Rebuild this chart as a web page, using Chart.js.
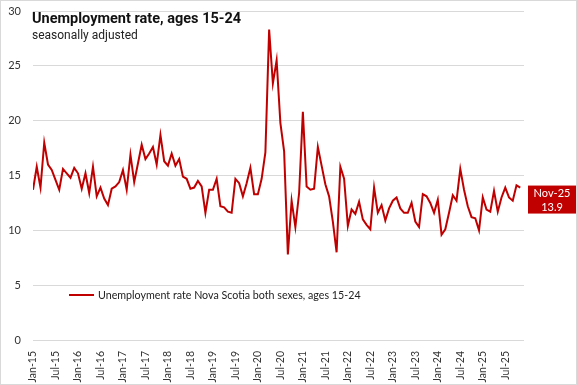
<!DOCTYPE html>
<html>
<head>
<meta charset="utf-8">
<script src="https://cdn.jsdelivr.net/npm/chart.js"></script>
<style>
    body { margin: 0; background: #fff; }
    #wrap {
        position: relative;
        width: 577px;
        height: 385px;
        border: 1px solid #d9d9d9;
        box-sizing: border-box;
    }
    #title {
        position: absolute; left: 31px; top: 9px;
        font: bold 14.5px Roboto, sans-serif; color: #111;
    }
    #subtitle {
        position: absolute; left: 31px; top: 27px;
        font: 12px Roboto, sans-serif; color: #222;
    }
    #legend {
        position: absolute; left: 68px; top: 287px;
        font: 10.7px Lato, sans-serif; color: #222;
        display: flex; align-items: center;
    }
    #legend .swatch {
        display: inline-block; width: 25px; height: 2px;
        background: #c00000; margin-right: 4px;
    }
</style>
</head>
<body>
<div id="wrap">
    <canvas id="chart"></canvas>
    <div id="title">Unemployment rate, ages 15-24</div>
    <div id="subtitle">seasonally adjusted</div>
    <div id="legend"><span class="swatch"></span><span id="legendText"></span></div>
</div>
<script>
// Monthly values, Jan-15 .. Nov-25
const rates = [
    13.7, 15.8, 13.9, 18.0, 16.0, 15.5, 14.6, 13.7, 15.6, 15.2, 14.8, 15.7,
    15.2, 13.8, 15.2, 13.4, 15.8, 13.1, 13.9, 12.9, 12.3, 13.8, 14.0, 14.4,
    15.5, 13.7, 16.9, 14.4, 16.1, 17.8, 16.5, 17.0, 17.6, 16.0, 18.7, 16.3,
    15.9, 17.0, 15.9, 16.5, 14.9, 14.7, 13.8, 13.9, 14.5, 14.0, 11.6, 13.7,
    13.7, 14.7, 12.2, 12.1, 11.7, 11.6, 14.7, 14.3, 13.1, 14.3, 15.7, 13.3,
    13.3, 14.7, 17.1, 28.3, 23.4, 25.5, 19.8, 17.2, 7.8, 12.7, 10.3, 13.4,
    20.8, 14.0, 13.7, 13.8, 17.6, 15.9, 14.2, 13.1, 10.8, 8.0, 15.8, 14.7,
    10.4, 11.9, 11.5, 12.6, 11.0, 10.5, 10.1, 13.9, 11.6, 12.3, 10.9, 12.0,
    12.7, 13.0, 12.0, 11.6, 11.6, 12.5, 10.8, 10.3, 13.3, 13.1, 12.5, 11.6,
    12.8, 9.6, 10.1, 11.6, 13.2, 12.7, 15.6, 13.7, 12.2, 11.2, 11.1, 10.0,
    13.0, 11.9, 11.7, 13.6, 11.7, 13.0, 13.9, 13.0, 12.7, 14.1, 13.9
];

// x tick labels, one every 6 months
const tickLabels = [
    'Jan-15', 'Jul-15', 'Jan-16', 'Jul-16', 'Jan-17', 'Jul-17', 'Jan-18', 'Jul-18',
    'Jan-19', 'Jul-19', 'Jan-20', 'Jul-20', 'Jan-21', 'Jul-21', 'Jan-22', 'Jul-22',
    'Jan-23', 'Jul-23', 'Jan-24', 'Jul-24', 'Jan-25', 'Jul-25'
];
const yTicks = [0, 5, 10, 15, 20, 25, 30];

const lastMonth = 'Nov-25';
const seriesName = 'Unemployment rate Nova Scotia both sexes, ages 15-24';
const lineColor = '#c00000';

document.getElementById('legendText').textContent = seriesName;

// Callout box with the latest value, to the right of the plot
const lastValueLabel = {
    id: 'lastValueLabel',
    afterDraw(chart) {
        const ctx = chart.ctx;
        const meta = chart.getDatasetMeta(0);
        const last = meta.data[meta.data.length - 1];
        const value = rates[rates.length - 1];
        const x = chart.chartArea.right + 4;
        const y = last.y - 2;
        const w = 48, h = 28;
        ctx.save();
        ctx.fillStyle = lineColor;
        ctx.fillRect(x, y, w, h);
        ctx.fillStyle = '#fff';
        ctx.font = '11px Lato, sans-serif';
        ctx.textAlign = 'center';
        ctx.textBaseline = 'middle';
        ctx.fillText(lastMonth, x + w / 2, y + 7.5);
        ctx.fillText(value.toFixed(1), x + w / 2, y + 21.5);
        ctx.restore();
    }
};

new Chart(document.getElementById('chart'), {
    type: 'line',
    data: {
        datasets: [{
            label: seriesName,
            data: rates.map((v, i) => ({ x: i, y: v })),
            borderColor: lineColor,
            borderWidth: 2,
            pointRadius: 0,
            tension: 0,
            fill: false
        }]
    },
    options: {
        responsive: true,
        maintainAspectRatio: false,
        animation: false,
        layout: { padding: { top: 10, right: 52, left: 0, bottom: 0 } },
        plugins: {
            legend: { display: false },
            tooltip: { enabled: false }
        },
        scales: {
            x: {
                type: 'linear',
                min: 0,
                max: 131,
                grid: { display: false },
                border: { display: false },
                afterBuildTicks: (axis) => {
                    axis.ticks = tickLabels.map((_, i) => ({ value: i * 6 }));
                },
                afterFit: (axis) => {
                    axis.height = 44;
                    axis.paddingLeft = 0;
                    axis.paddingRight = 0;
                },
                ticks: {
                    autoSkip: false,
                    maxRotation: 90,
                    minRotation: 90,
                    padding: 3,
                    color: '#333',
                    font: { family: 'Lato, sans-serif', size: 10.5 },
                    callback: (v) => tickLabels[v / 6]
                }
            },
            y: {
                min: 0,
                max: 30,
                afterBuildTicks: (axis) => {
                    axis.ticks = yTicks.map(v => ({ value: v }));
                },
                afterFit: (axis) => {
                    axis.width = 32;
                    axis.paddingTop = 0;
                    axis.paddingBottom = 0;
                },
                grid: { color: '#d9d9d9', drawTicks: false },
                border: { display: false },
                ticks: {
                    padding: 12,
                    color: '#333',
                    font: { family: 'Lato, sans-serif', size: 11 }
                }
            }
        }
    },
    plugins: [lastValueLabel]
});
</script>
</body>
</html>
